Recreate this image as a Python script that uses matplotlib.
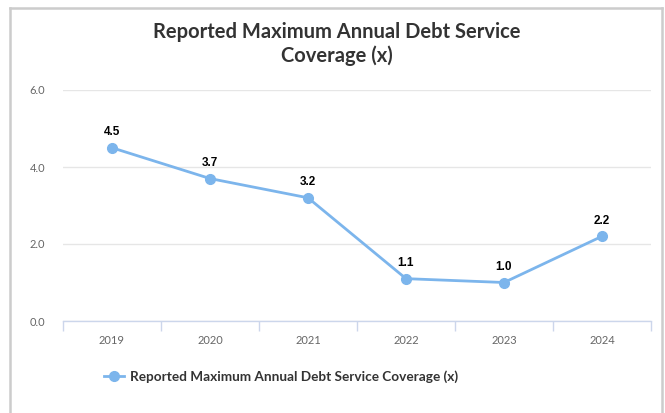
import matplotlib.pyplot as plt
from matplotlib.lines import Line2D

# データ
years = ["2019", "2020", "2021", "2022", "2023", "2024"]
coverage = [4.5, 3.7, 3.2, 1.1, 1.0, 2.2]
y_ticks = [0.0, 2.0, 4.0, 6.0]
title = "Reported Maximum Annual Debt Service\nCoverage (x)"
series_name = "Reported Maximum Annual Debt Service Coverage (x)"

W, H = 665, 413
LINE_COLOR = "#7cb5ec"

fig = plt.figure(figsize=(W / 100, H / 100), dpi=100)
fig.patch.set_facecolor("white")

# 外枠
border = dict(color="#cccccc", linewidth=1.8, transform=fig.transFigure)
fig.add_artist(Line2D([10 / W, 10 / W], [0, 1 - 8 / H], **border))
fig.add_artist(Line2D([10 / W, 662 / W], [1 - 8 / H, 1 - 8 / H], **border))
fig.add_artist(Line2D([662 / W, 662 / W], [0, 1 - 8 / H], **border))

# プロット領域
ax = fig.add_axes([63 / W, (H - 321) / H, 588 / W, 231 / H])
x = list(range(len(years)))
ax.plot(x, coverage, color=LINE_COLOR, linewidth=2, marker="o",
        markersize=7, label=series_name, zorder=3, clip_on=False)

for xi, v in zip(x, coverage):
    ax.annotate(f"{v:.1f}", (xi, v), xytext=(0, 7), textcoords="offset points",
                ha="center", va="bottom", fontsize=8.5, fontweight="bold",
                family="Liberation Sans", color="black")

ax.set_xlim(-0.5, len(years) - 0.5)
ax.set_ylim(0, 6)
ax.set_yticks(y_ticks)
ax.set_yticklabels([f"{t:.1f}" for t in y_ticks], family="Lato", fontsize=8, color="#666666")
ax.set_xticks(x)
ax.set_xticklabels(years, family="Lato", fontsize=8, color="#666666")
ax.set_xticks([i - 0.5 for i in range(len(years) + 1)], minor=True)
ax.tick_params(axis="x", which="major", length=0, pad=10)
ax.tick_params(axis="x", which="minor", length=7.5, width=1, color="#ccd6eb", direction="out")
ax.tick_params(axis="y", length=0, pad=13)

ax.grid(True, axis="y", color="#e6e6e6", linewidth=1)
ax.set_axisbelow(True)
for side in ["top", "right", "left"]:
    ax.spines[side].set_visible(False)
ax.spines["bottom"].set_color("#ccd6eb")
ax.spines["bottom"].set_linewidth(1)

fig.text(337 / W, 1 - 44 / H, title, ha="center", va="center", family="Lato",
         fontweight="bold", fontsize=14.5, color="#333333", linespacing=1.25)

fig.legend(loc="center left", bbox_to_anchor=(104 / W, 1 - 377 / H),
           frameon=False, prop={"family": "Lato", "weight": "bold", "size": 9.8},
           labelcolor="#333333", handlelength=1.5, handletextpad=0.4,
           borderpad=0, borderaxespad=0)

plt.savefig("out.png", dpi=100)
